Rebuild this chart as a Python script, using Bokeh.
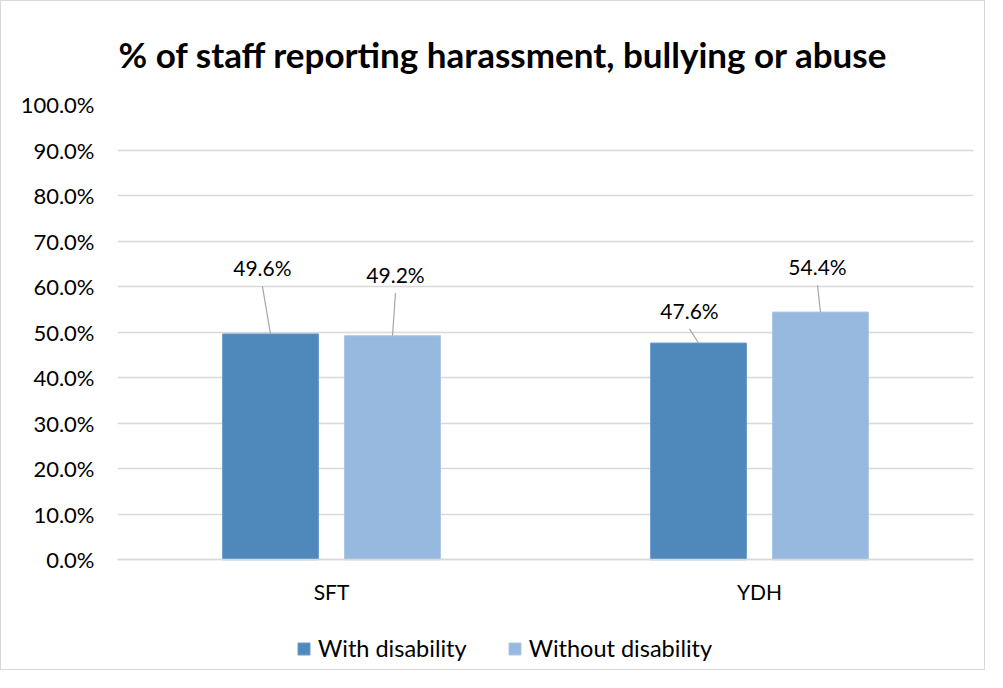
from bokeh.plotting import figure
from bokeh.models import (ColumnDataSource, FactorRange, Range1d, NumeralTickFormatter,
                          Legend, LegendItem, Title)
from bokeh.transform import dodge
from bokeh.core.properties import value
from bokeh.embed import file_html
from bokeh.resources import INLINE

# ---- data ----
categories = ["SFT", "YDH"]
series_names = ["With disability", "Without disability"]
with_disability = [0.496, 0.476]
without_disability = [0.492, 0.544]
y_ticks = [0.0, 0.1, 0.2, 0.3, 0.4, 0.5, 0.6, 0.7, 0.8, 0.9, 1.0]
title_text = "% of staff reporting harassment, bullying or abuse"

# ---- styles ----
FONT = "Lato"
FS = "21px"
C_WITH = "#4F89BC"
C_WITHOUT = "#97B9E0"
GRID = "#D9D9D9"
BAR_OFF = 0.1425
BAR_W = 0.224
# manual label placement (data units) as dragged in the original
lab_dx = {"with": [-0.019, -0.021], "without": [0.007, -0.007]}
lab_dy = {"with": [0.146, 0.072], "without": [0.135, 0.100]}

W, H = 985, 670
TOP, BOTTOM = 102, 2
frame_h = H - TOP - BOTTOM
y_start = -(frame_h - 456) / 456   # room below 0% for category labels and legend

p = figure(width=W, height=H, x_range=FactorRange(*categories), y_range=Range1d(y_start, 1),
           output_backend="svg", toolbar_location=None,
           min_border_left=116, min_border_right=13, min_border_top=TOP, min_border_bottom=BOTTOM)
p.styles = {"border": "1px solid #D9D9D9"}

p.title = Title(text=title_text, align="left", offset=1, standoff=59,
                text_font=FONT, text_font_style="bold", text_font_size="35px", text_color="#000000")

p.outline_line_color = None
p.xgrid.grid_line_color = None
p.ygrid.grid_line_color = GRID
p.ygrid.grid_line_width = 1.3

p.yaxis.ticker = y_ticks
p.yaxis.formatter = NumeralTickFormatter(format="0.0%")
p.yaxis.axis_line_color = None
p.yaxis.major_tick_line_color = None
p.yaxis.minor_tick_line_color = None
p.yaxis.major_tick_out = 0
p.yaxis.major_tick_in = 0
p.yaxis.major_label_standoff = 23
p.yaxis.major_label_text_font = FONT
p.yaxis.major_label_text_font_size = "22px"
p.yaxis.major_label_text_color = "#000000"

p.xaxis.fixed_location = 0
p.xaxis.axis_line_color = GRID
p.xaxis.axis_line_width = 1.3
p.xaxis.major_tick_line_color = None
p.xaxis.minor_tick_line_color = None
p.xaxis.major_tick_out = 0
p.xaxis.major_tick_in = 0
p.xaxis.major_label_standoff = 19
p.xaxis.major_label_text_font = FONT
p.xaxis.major_label_text_font_size = FS
p.xaxis.major_label_text_color = "#000000"

src = ColumnDataSource(dict(cat=categories, w=with_disability, wo=without_disability))
r1 = p.vbar(x=dodge("cat", -BAR_OFF, range=p.x_range), top="w", width=BAR_W, source=src,
            fill_color=C_WITH, line_color="#6A9CCB", line_width=1)
r2 = p.vbar(x=dodge("cat", BAR_OFF, range=p.x_range), top="wo", width=BAR_W, source=src,
            fill_color=C_WITHOUT, line_color="#A9C6E6", line_width=1)

# data labels with leader lines
lx, ly, lt, sx0, sy0, sx1, sy1 = [], [], [], [], [], [], []
for key, vals, off in (("with", with_disability, -BAR_OFF), ("without", without_disability, BAR_OFF)):
    for i, v in enumerate(vals):
        xc = i + 0.5 + off
        x_l = xc + lab_dx[key][i]
        y_l = v + lab_dy[key][i]
        lx.append(x_l); ly.append(y_l); lt.append(f"{v*100:.1f}%")
        sx0.append(x_l); sy0.append(y_l - 0.041); sx1.append(xc); sy1.append(v)

p.segment(x0=sx0, y0=sy0, x1=sx1, y1=sy1, line_color="#A6A6A6", line_width=1.2)
p.text(x=lx, y=ly, text=lt, text_align="center", text_baseline="middle",
       text_font=value(FONT), text_font_size=FS, text_color="#000000")

legend = Legend(items=[LegendItem(label=series_names[0], renderers=[r1]),
                       LegendItem(label=series_names[1], renderers=[r2])],
                orientation="horizontal", location=(179, 7),
                glyph_width=15, glyph_height=15, label_standoff=7, spacing=40,
                padding=0, margin=0, border_line_color=None, background_fill_alpha=0,
                label_text_font=FONT, label_text_font_size="23.5px", label_text_color="#000000")
p.add_layout(legend, "center")

open("out.html", "w").write(file_html(p, INLINE))
